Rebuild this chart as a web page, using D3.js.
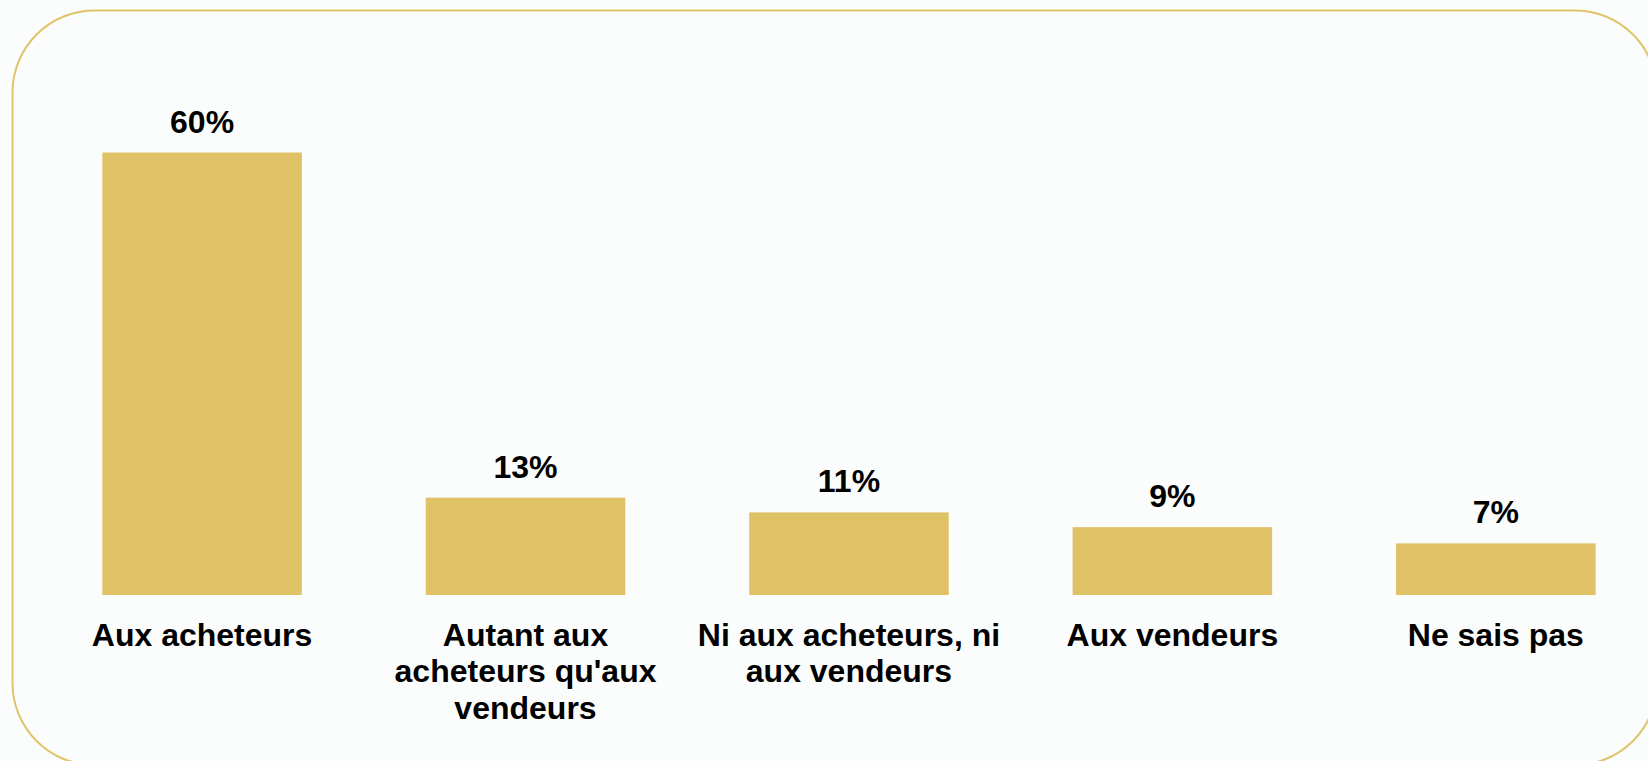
<!DOCTYPE html>
<html>
<head>
<meta charset="utf-8">
<script src="https://d3js.org/d3.v7.min.js"></script>
<style>
  body { margin: 0; background: #fbfdfd; overflow: hidden; }
  text { font-family: "Liberation Sans", Arial, sans-serif; font-weight: bold; fill: #000; }
</style>
</head>
<body>
<svg id="chart" width="1648" height="761"></svg>
<script>
// data
var categories = ["Aux acheteurs", "Autant aux\nacheteurs qu'aux\nvendeurs", "Ni aux acheteurs, ni\naux vendeurs", "Aux vendeurs", "Ne sais pas"];
var values = [60, 13.2, 11.2, 9.2, 7];
var valueLabels = ["60%", "13%", "11%", "9%", "7%"];

var width = 1648, height = 761;
var barColor = "#e0c266", frameColor = "#e0c46a";

var svg = d3.select("#chart");

// rounded frame, runs off the right and bottom edges
svg.append("rect")
  .attr("x", 12.5).attr("y", 10.5)
  .attr("width", 1644.5).attr("height", 754.5)
  .attr("rx", 82).attr("ry", 82)
  .style("fill", "#fbfdfd")
  .style("stroke", frameColor)
  .style("stroke-width", 2);

var x = d3.scaleBand().domain(categories).range([102.3, 1595.6]).paddingInner(0.383).paddingOuter(0);
var y = d3.scaleLinear().domain([0, 60]).range([595, 152.5]);

svg.selectAll("rect.bar")
  .data(values)
  .enter()
  .append("rect")
  .attr("class", "bar")
  .attr("x", function(d, i) { return x(categories[i]); })
  .attr("y", function(d) { return y(d); })
  .attr("width", x.bandwidth())
  .attr("height", function(d) { return y(0) - y(d); })
  .style("fill", barColor);

// value labels above the bars
svg.selectAll("text.val")
  .data(values)
  .enter()
  .append("text")
  .attr("class", "val")
  .attr("x", function(d, i) { return x(categories[i]) + x.bandwidth() / 2; })
  .attr("y", function(d) { return y(d) - 20; })
  .attr("text-anchor", "middle")
  .style("font-size", "32px")
  .text(function(d, i) { return valueLabels[i]; });

// category labels under the bars
var cat = svg.selectAll("text.cat")
  .data(categories)
  .enter()
  .append("text")
  .attr("class", "cat")
  .attr("text-anchor", "middle")
  .style("font-size", "32px");

cat.each(function(d) {
  var t = d3.select(this);
  var cx = x(d) + x.bandwidth() / 2;
  d.split("\n").forEach(function(line, k) {
    t.append("tspan")
      .attr("x", cx)
      .attr("y", y(0) + 51 + k * 36.3)
      .text(line);
  });
});
</script>
</body>
</html>
